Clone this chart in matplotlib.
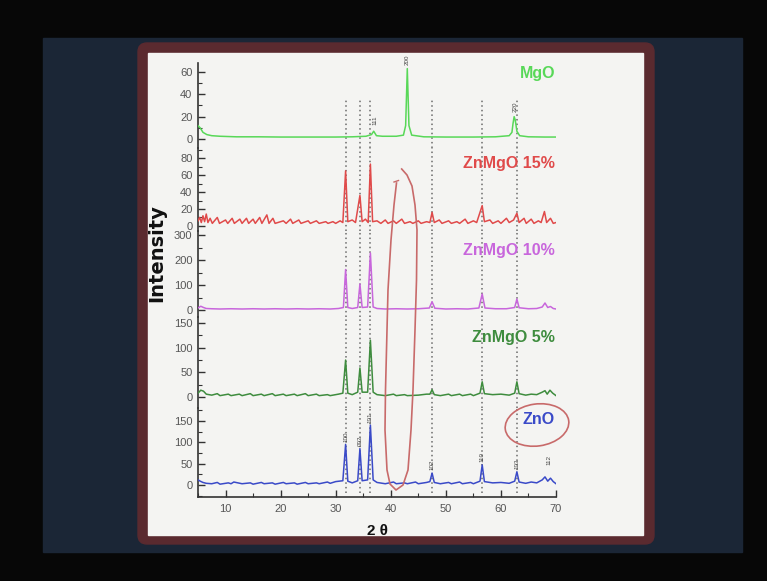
import matplotlib
matplotlib.use('Agg')
import matplotlib.pyplot as plt
from matplotlib.patches import FancyBboxPatch, Rectangle, Ellipse
from matplotlib.ticker import MultipleLocator

plt.rcParams['font.family'] = ['Liberation Sans', 'DejaVu Sans']

# XRD traces (2theta, intensity)
mgo_x = [5.0, 5.4, 5.9, 6.6, 7.5, 9.0, 12.0, 16.0, 20.0, 25.0, 30.0, 33.0, 35.5, 36.5, 36.9,
         37.4, 38.5, 41.0, 42.3, 42.7, 43.0, 43.3, 43.8, 46.0, 50.0, 55.0, 59.0, 61.5, 62.0, 62.2,
         62.4, 62.6, 62.9, 63.4, 65.0, 68.0, 70.0]
mgo_y = [12, 10, 6, 4, 3, 2.5, 2, 2, 1.8, 1.8, 1.8, 2, 2.5, 4, 7,
         3, 2.5, 2.5, 3.5, 12, 63, 12, 3.5, 2, 1.8, 1.8, 2, 3, 6, 14,
         20, 17, 7, 3, 2, 1.8, 1.8]

zm15_x = [5.0, 5.3, 5.6, 5.9, 6.2, 6.5, 6.8, 7.2, 7.6, 8.5, 8.9, 10.0, 10.4, 11.2, 11.6, 12.6, 13.0,
          13.8, 14.2, 15.0, 15.4, 16.2, 16.6, 17.5, 17.9, 18.6, 19.0, 20.5, 21.0, 21.8, 22.2, 23.3,
          23.7, 25.0, 25.4, 26.5, 27.0, 28.2, 28.6, 29.5, 30.0, 30.8, 31.3, 31.8, 32.2, 33.0, 33.6,
          34.4, 34.8, 35.4, 35.9, 36.3, 36.7, 37.5, 38.2, 39.0, 39.5, 40.5, 41.0, 42.0, 42.5, 43.5,
          44.0, 45.0, 45.5, 46.5, 47.1, 47.5, 47.9, 48.8, 49.3, 50.5, 51.0, 52.0, 52.5, 53.5, 54.0,
          55.0, 55.6, 56.6, 57.0, 58.0, 58.5, 59.5, 60.0, 61.0, 61.5, 62.3, 62.9, 63.3, 64.2, 64.6,
          65.5, 66.0, 66.8, 67.3, 67.9, 68.3, 69.0, 69.5, 70.0]
zm15_y = [6, 10, 4, 12, 5, 14, 4, 9, 3, 10, 3, 7, 3, 9, 3, 8, 3,
          9, 3, 8, 3, 10, 3, 13, 3, 9, 3, 6, 3, 8, 3, 7,
          3, 6, 3, 6, 3, 5, 3, 5, 3, 6, 4, 65, 5, 7, 4,
          36, 5, 8, 4, 73, 5, 6, 3, 7, 3, 6, 3, 8, 3, 5,
          3, 6, 3, 5, 4, 16, 4, 7, 3, 6, 3, 5, 3, 8, 3,
          6, 4, 24, 5, 7, 3, 6, 3, 9, 4, 7, 15, 4, 9, 3,
          8, 3, 6, 4, 17, 4, 9, 3, 4]

zm10_x = [5.0, 5.5, 6.0, 6.5, 7.5, 9.0, 11.0, 13.0, 15.0, 17.0, 19.0, 21.0, 23.0, 25.0, 27.0, 29.0,
          30.5, 31.4, 31.8, 32.2, 33.0, 34.0, 34.4, 34.8, 35.8, 36.3, 36.8, 37.5, 39.0, 41.0, 43.0,
          45.0, 47.0, 47.5, 48.0, 50.0, 52.0, 54.0, 56.0, 56.6, 57.1, 59.0, 61.0, 62.5, 62.9, 63.3,
          65.0, 66.5, 67.5, 68.0, 68.5, 69.0, 69.5, 70.0]
zm10_y = [8, 15, 10, 6, 5, 4, 5, 4, 5, 4, 5, 4, 5, 4, 5, 4,
          6, 10, 162, 10, 6, 10, 104, 10, 12, 228, 12, 6, 4, 5, 4,
          5, 8, 33, 7, 4, 5, 4, 8, 64, 8, 5, 5, 10, 44, 9,
          5, 6, 12, 28, 10, 14, 6, 4]

zm5_x = [5.0, 5.5, 6.0, 6.5, 7.5, 8.5, 9.0, 10.5, 11.0, 12.5, 13.0, 14.5, 15.0, 16.5, 17.0, 18.5,
         19.0, 20.5, 21.0, 22.5, 23.0, 24.5, 25.0, 26.5, 27.0, 28.5, 29.0, 30.5, 31.3, 31.8, 32.2,
         33.0, 34.0, 34.4, 34.8, 35.8, 36.3, 36.8, 37.5, 39.0, 40.5, 41.0, 42.5, 43.0, 45.0, 46.5,
         47.1, 47.5, 47.9, 49.0, 50.5, 51.0, 52.5, 53.0, 54.5, 55.0, 56.2, 56.6, 57.0, 58.5, 60.0,
         61.5, 62.5, 62.9, 63.3, 64.5, 65.5, 66.5, 67.5, 68.0, 68.4, 68.9, 69.4, 70.0]
zm5_y = [8, 14, 12, 6, 4, 7, 3, 6, 3, 6, 3, 7, 3, 6, 3, 7,
         3, 6, 3, 6, 3, 7, 3, 6, 3, 5, 3, 6, 8, 75, 8,
         5, 10, 59, 10, 10, 115, 10, 5, 3, 6, 3, 5, 3, 4, 6,
         6, 15, 5, 3, 6, 3, 6, 3, 6, 3, 8, 31, 7, 5, 6,
         4, 8, 31, 7, 4, 6, 5, 10, 13, 6, 14, 8, 3]

zno_x = [5.0, 5.4, 5.9, 6.5, 7.5, 8.5, 9.0, 10.5, 11.0, 11.5, 13.0, 14.5, 15.0, 16.5, 17.0, 18.5,
         19.0, 20.5, 21.0, 22.5, 23.0, 24.5, 25.0, 26.5, 27.0, 28.5, 29.0, 30.0, 31.3, 31.8, 32.2,
         33.0, 34.0, 34.4, 34.8, 35.8, 36.3, 36.8, 37.5, 39.0, 40.5, 41.0, 42.5, 43.0, 44.5, 45.0,
         46.5, 47.1, 47.5, 47.9, 49.0, 50.5, 51.0, 52.5, 53.0, 54.5, 55.0, 56.2, 56.6, 57.0, 58.5,
         60.0, 61.5, 62.5, 62.9, 63.3, 64.5, 65.5, 66.5, 67.5, 68.0, 68.5, 69.0, 69.5, 70.0]
zno_y = [12, 9, 6, 4, 3, 6, 2, 5, 3, 7, 3, 5, 2, 6, 3, 5,
         2, 6, 3, 5, 2, 6, 3, 5, 3, 7, 4, 8, 10, 95, 9,
         5, 10, 85, 10, 12, 140, 12, 6, 3, 7, 3, 5, 3, 7, 3,
         6, 8, 28, 6, 3, 6, 3, 7, 3, 6, 3, 9, 47, 8, 5,
         6, 4, 9, 31, 7, 4, 7, 5, 12, 19, 9, 16, 8, 3]

names = ['MgO', 'ZnMgO 15%', 'ZnMgO 10%', 'ZnMgO 5%', 'ZnO']
series_x = [mgo_x, zm15_x, zm10_x, zm5_x, zno_x]
series_y = [mgo_y, zm15_y, zm10_y, zm5_y, zno_y]
label_y = [59, 74, 240, 120, 152]

# ZnO reference reflections and hkl tags
zno_lines = [31.8, 34.4, 36.3, 47.5, 56.6, 62.9]
zno_hkl = ['100', '002', '101', '102', '110', '103', '112']
zno_hkl_x = [31.8, 34.4, 36.3, 47.5, 56.6, 62.9, 68.8]
zno_hkl_h = [95, 85, 140, 28, 47, 31, 40]
mgo_hkl = ['111', '200', '220']
mgo_hkl_x = [37.1, 43.0, 62.5]
mgo_hkl_h = [11, 64, 22]

colors = ['#58d858', '#e04a4a', '#c866dc', '#3e8c3e', '#3a4ac8']
ylims = [(-8, 68), (-6, 92), (-28, 316), (-22, 162), (-28, 180)]
majors = [20, 20, 100, 50, 50]
minors = [10, 10, 50, 25, 25]

W, H = 767, 581
fig = plt.figure(figsize=(W / 100, H / 100), dpi=100, facecolor='#070707')

# projected slide background
bg = fig.add_axes([0, 0, 1, 1], zorder=0)
bg.set_xlim(0, W)
bg.set_ylim(H, 0)
bg.axis('off')
bg.add_patch(Rectangle((43, 38), 699, 514, color='#1b2636'))
bg.add_patch(FancyBboxPatch((138, 43), 516, 501, boxstyle='round,pad=0,rounding_size=9', color='#5a2a2f'))
bg.add_patch(Rectangle((148, 53), 495, 482, color='#f4f4f2'))

gs = fig.add_gridspec(5, 1, left=198 / W, right=556 / W, top=1 - 63 / H, bottom=1 - 497 / H,
                      hspace=0, height_ratios=[85, 83, 86, 91, 89])

axes = []
for i in range(5):
    ax = fig.add_subplot(gs[i], zorder=1)
    ax.patch.set_alpha(0)
    ax.plot(series_x[i], series_y[i], color=colors[i], lw=1.1, zorder=3)
    ax.set_xlim(5, 70)
    ax.set_ylim(*ylims[i])
    ax.yaxis.set_major_locator(MultipleLocator(majors[i]))
    ax.yaxis.set_minor_locator(MultipleLocator(minors[i]))
    ax.tick_params(axis='y', which='major', direction='in', length=5, width=1,
                   colors='#333333', labelcolor='#555555', labelsize=8, pad=4)
    ax.tick_params(axis='y', which='minor', direction='in', length=3, width=0.8, colors='#333333')
    for s in ['top', 'right']:
        ax.spines[s].set_visible(False)
    ax.spines['left'].set_color('#333333')
    ax.spines['left'].set_linewidth(1.2)
    if i < 4:
        ax.spines['bottom'].set_visible(False)
        ax.tick_params(axis='x', which='both', bottom=False, labelbottom=False)
    lo, hi = 0, 1
    if i == 0:
        hi = 0.565
    if i == 4:
        lo = 0.045
    for xv in zno_lines:
        ax.axvline(xv, ymin=lo, ymax=hi, color='#6a6a6a', lw=1.1, ls=(0, (1, 2)), zorder=2)
    ax.text(69.8, label_y[i], names[i], color=colors[i], fontsize=11.5, fontweight='bold',
            ha='right', va='center', zorder=4)
    axes.append(ax)

bx = axes[4]
bx.xaxis.set_major_locator(MultipleLocator(10))
bx.xaxis.set_minor_locator(MultipleLocator(5))
bx.tick_params(axis='x', which='major', direction='in', length=5, width=1,
               colors='#333333', labelcolor='#555555', labelsize=8, pad=5)
bx.tick_params(axis='x', which='minor', direction='in', length=3, width=0.8, colors='#333333')
bx.spines['bottom'].set_color('#333333')
bx.spines['bottom'].set_linewidth(1.2)

for t, xv, h in zip(zno_hkl, zno_hkl_x, zno_hkl_h):
    bx.text(xv, h + 6, t, rotation=90, fontsize=4.5, color='#444444', ha='center', va='bottom')
for t, xv, h in zip(mgo_hkl, mgo_hkl_x, mgo_hkl_h):
    axes[0].text(xv, h + 2, t, rotation=90, fontsize=4.5, color='#444444', ha='center',
                 va='bottom', clip_on=False)

fig.text(157 / W, 1 - 253 / H, 'Intensity', rotation=90, fontsize=14, fontweight='bold',
         family='DejaVu Sans', color='#111111', ha='center', va='center')
fig.text(377 / W, 1 - 531 / H, '2 θ', fontsize=11, fontweight='bold', color='#111111',
         ha='center', va='center')

# hand-drawn marks on the slide
fg = fig.add_axes([0, 0, 1, 1], zorder=5)
fg.patch.set_alpha(0)
fg.set_xlim(0, W)
fg.set_ylim(H, 0)
fg.axis('off')
loop_x = [401.7, 407, 412, 415, 417, 416.5, 415, 413, 411, 408, 403, 396, 390, 387, 385, 385.5,
          387, 388, 391, 394, 396.5]
loop_y = [169, 175, 186, 205, 230, 280, 330, 390, 430, 470, 485, 490, 484, 470, 430, 390,
          330, 290, 240, 205, 183]
fg.plot(loop_x, loop_y, color='#c86a6a', lw=1.2)
fg.plot([394, 398.5], [182, 180.5], color='#c86a6a', lw=1.0)
fg.add_patch(Ellipse((537, 425), 64, 42, angle=-8, fill=False, ec='#c86a6a', lw=1.2))

fig.savefig('out.png', dpi=100, facecolor=fig.get_facecolor())
